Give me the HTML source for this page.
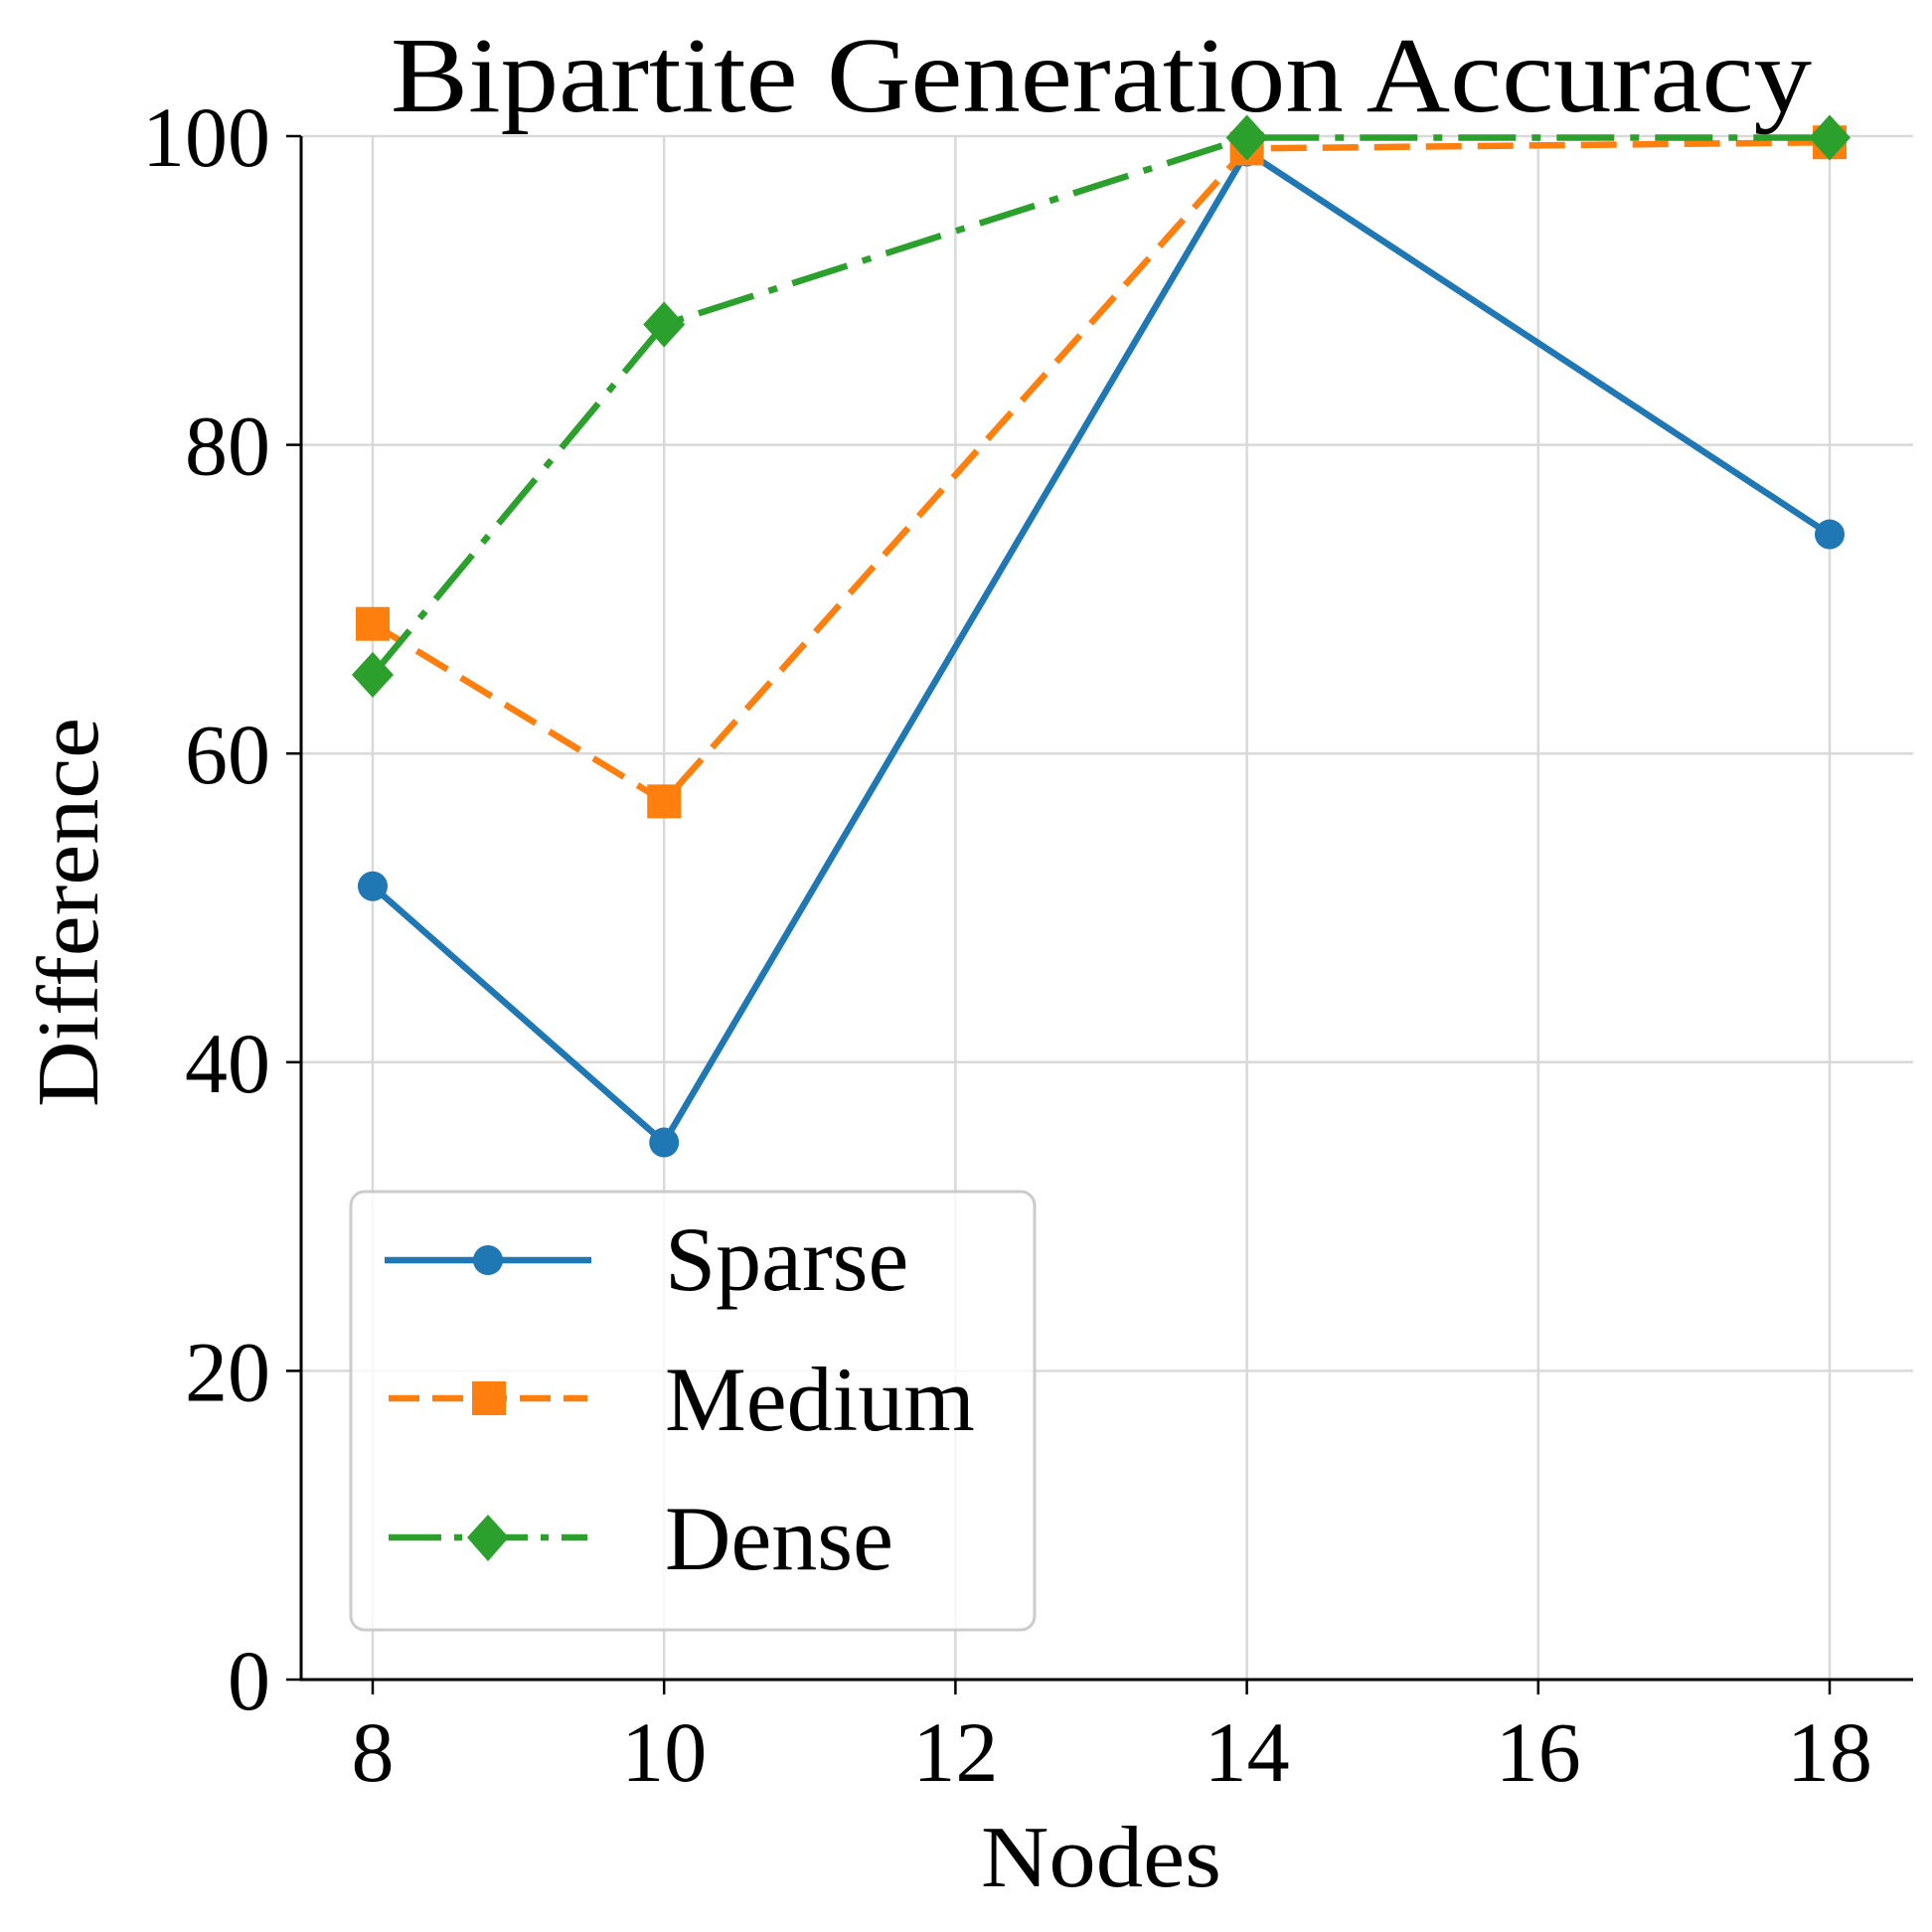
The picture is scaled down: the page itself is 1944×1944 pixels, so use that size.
<!DOCTYPE html>
<html><head><meta charset="utf-8"><style>
html,body{margin:0;padding:0;background:#fff;}
svg{display:block;font-family:"Liberation Serif",serif;}
</style></head><body>
<svg id="chart" width="1944" height="1944" viewBox="0 0 1944 1944" xmlns="http://www.w3.org/2000/svg">
<g id="grid"></g>
<g id="series"></g>
<g id="axes"></g>
<text x="1108" y="112" font-size="108" text-anchor="middle" textLength="1430" lengthAdjust="spacingAndGlyphs">Bipartite Generation Accuracy</text>
<text x="1108" y="1898" font-size="88" text-anchor="middle" textLength="242" lengthAdjust="spacingAndGlyphs">Nodes</text>
<text transform="translate(98,918) rotate(-90)" font-size="88" text-anchor="middle" textLength="392" lengthAdjust="spacingAndGlyphs">Difference</text>
<g>
<rect x="353" y="1199" width="688" height="441" rx="14" fill="#fff" fill-opacity="0.8" stroke="#cccccc" stroke-width="3"/>
<g>
<line x1="387" y1="1268" x2="595" y2="1268" stroke="#1f77b4" stroke-width="6.5"/>
<circle cx="491" cy="1268" r="15" fill="#1f77b4"/>
<text x="669" y="1298" font-size="92">Sparse</text></g>
<g>
<line x1="391" y1="1407" x2="591" y2="1407" stroke="#ff7f0e" stroke-width="6.5" stroke-dasharray="31,13"/>
<rect x="475" y="1390" width="34" height="34" fill="#ff7f0e"/>
<text x="669" y="1439" font-size="92">Medium</text></g>
<g>
<line x1="391" y1="1547" x2="591" y2="1547" stroke="#2ca02c" stroke-width="6.5" stroke-dasharray="53,13,8,13"/>
<polygon points="491,1524 512,1547 491,1571 470,1547" fill="#2ca02c"/>
<text x="669" y="1579" font-size="92">Dense</text></g>
</g>
</svg>
<script>
const nodes = [8, 10, 14, 18];
const sparse = [51.4, 34.8, 99.0, 74.2];
const medium = [68.4, 56.9, 99.2, 99.6];
const dense = [65.1, 87.8, 99.9, 99.9];
const xTicks = [8, 10, 12, 14, 16, 18];
const yTicks = [0, 20, 40, 60, 80, 100];

const NS = "http://www.w3.org/2000/svg";
const X0 = 303, X1 = 1925, Y0 = 1690, Y1 = 137;
function xs(v){ return 375 + (v - 8) * (1841 - 375) / 10; }
function ys(v){ return Y0 - v * (Y0 - Y1) / 100; }
function mk(tag, attrs, parent){ const e = document.createElementNS(NS, tag); for (const k in attrs) e.setAttribute(k, attrs[k]); parent.appendChild(e); return e; }

const grid = document.getElementById('grid');
const axes = document.getElementById('axes');
const ser = document.getElementById('series');

xTicks.forEach(t => {
  const g = mk('line', {x1: xs(t), x2: xs(t), y1: Y1, y2: Y0, stroke: '#d9d9d9', 'stroke-width': 2.5}, grid);
  
  
  const tk = mk('line', {x1: xs(t), x2: xs(t), y1: Y0, y2: Y0 + 15, stroke: '#000', 'stroke-width': 2.5}, axes);
  
  
  const lb = mk('text', {x: xs(t), y: 1792, 'font-size': 86, 'text-anchor': 'middle'}, axes);
  lb.textContent = t;
  
  
});
yTicks.forEach(t => {
  const g = mk('line', {x1: X0, x2: X1, y1: ys(t), y2: ys(t), stroke: '#d9d9d9', 'stroke-width': 2.5}, grid);
  
  
  const tk = mk('line', {x1: X0 - 15, x2: X0, y1: ys(t), y2: ys(t), stroke: '#000', 'stroke-width': 2.5}, axes);
  
  
  const lb = mk('text', {x: 272, y: ys(t) + 30, 'font-size': 86, 'text-anchor': 'end'}, axes);
  lb.textContent = t;
  
  
});
const ax1 = mk('line', {x1: X0, x2: X0, y1: Y1, y2: Y0 + 1.5, stroke: '#000', 'stroke-width': 3}, axes);


const ax2 = mk('line', {x1: X0 - 1.5, x2: X1, y1: Y0, y2: Y0, stroke: '#000', 'stroke-width': 3}, axes);



function drawSeries(vals, color, dash, marker, name){
  const pts = vals.map((v, i) => xs(nodes[i]) + ',' + ys(v)).join(' ');
  const pl = mk('polyline', {points: pts, fill: 'none', stroke: color, 'stroke-width': 6.5, 'stroke-dasharray': dash, 'stroke-linejoin': 'round'}, ser);
  
  
  vals.forEach((v, i) => {
    const cx = xs(nodes[i]), cy = ys(v);
    let m;
    if (marker === 'o') m = mk('circle', {cx: cx, cy: cy, r: 15, fill: color}, ser);
    else if (marker === 's') m = mk('rect', {x: cx - 17, y: cy - 17, width: 34, height: 34, fill: color}, ser);
    else m = mk('polygon', {points: `${cx},${cy-23} ${cx+21},${cy} ${cx},${cy+23} ${cx-21},${cy}`, fill: color}, ser);
    
    
  });
}
drawSeries(sparse, '#1f77b4', 'none', 'o', 'sparse');
drawSeries(medium, '#ff7f0e', '36,16', 's', 'medium');
drawSeries(dense, '#2ca02c', '58,16,9,16', 'd', 'dense');
</script>
</body></html>
